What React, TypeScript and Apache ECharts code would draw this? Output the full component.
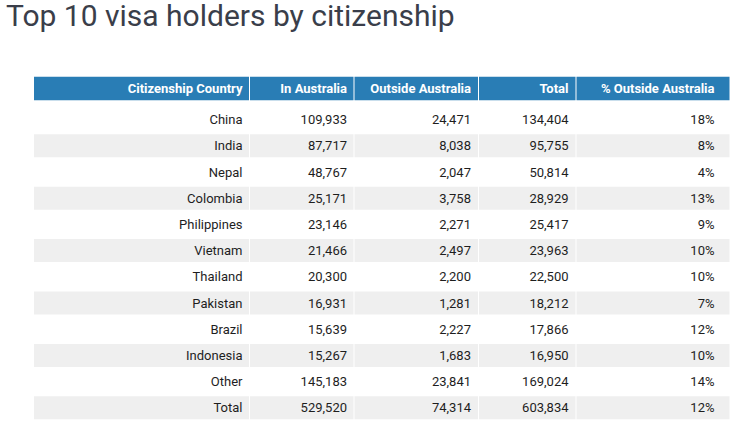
import React, { useEffect, useRef } from "react";
import * as echarts from "echarts";

const titleText = "Top 10 visa holders by citizenship";
const headers = ["Citizenship Country", "In Australia", "Outside Australia", "Total", "% Outside Australia"];
const countries = ["China", "India", "Nepal", "Colombia", "Philippines", "Vietnam", "Thailand", "Pakistan", "Brazil", "Indonesia", "Other", "Total"];
const inAustralia = [109933, 87717, 48767, 25171, 23146, 21466, 20300, 16931, 15639, 15267, 145183, 529520];
const outsideAustralia = [24471, 8038, 2047, 3758, 2271, 2497, 2200, 1281, 2227, 1683, 23841, 74314];
const totals = [134404, 95755, 50814, 28929, 25417, 23963, 22500, 18212, 17866, 16950, 169024, 603834];
const pctOutside = [18, 8, 4, 13, 9, 10, 10, 7, 12, 10, 14, 12];

// layout (column edges in px from the table's left edge, right padding per column)
const colEdges = [0, 216, 320.5, 445, 542.5, 695.5];
const colPad = [7.5, 7.5, 8, 8, 15];

const fmt = (n: number) => n.toLocaleString("en-US");

type Cell = { col: number; row: number; text: string };

const headerCells: Cell[] = headers.map((h, i) => ({ col: i, row: 0, text: h }));
const bodyCells: Cell[] = [];
countries.forEach((c, r) => {
  bodyCells.push({ col: 0, row: r, text: c });
  bodyCells.push({ col: 1, row: r, text: fmt(inAustralia[r]) });
  bodyCells.push({ col: 2, row: r, text: fmt(outsideAustralia[r]) });
  bodyCells.push({ col: 3, row: r, text: fmt(totals[r]) });
  bodyCells.push({ col: 4, row: r, text: pctOutside[r] + "%" });
});

const FONT = "Roboto";

function makeRender(cells: Cell[], isHeader: boolean) {
  return (params: any, api: any) => {
    const cell = cells[params.dataIndex];
    const col = api.value(0);
    const row = api.value(1);
    const p0 = api.coord([colEdges[col], row]);
    const p1 = api.coord([colEdges[col + 1], row]);
    const bandH = api.size([0, 1])[1];
    const h = isHeader ? bandH : bandH - 3.2;
    const last = col === colEdges.length - 2;
    const w = p1[0] - p0[0] - (last ? 0 : 1);
    let fill = "#ffffff";
    if (isHeader) fill = "#297db5";
    else if (row % 2 === 1) fill = "#efefef";
    return {
      type: "group",
      children: [
        {
          type: "rect",
          shape: { x: p0[0], y: p0[1] - h / 2, width: w, height: h },
          style: { fill },
        },
        {
          type: "text",
          x: p1[0] - colPad[col],
          y: p0[1],
          style: {
            text: cell.text,
            align: "right",
            verticalAlign: "middle",
            fontFamily: FONT,
            fontSize: 13,
            fontWeight: isHeader ? "bold" : "normal",
            fill: isHeader ? "#ffffff" : "#1e1e1e",
          },
        },
      ],
    };
  };
}

export default function App() {
  const ref = useRef<HTMLDivElement>(null);
  useEffect(() => {
    if (!ref.current) return;
    const chart = echarts.init(ref.current, undefined, { renderer: "svg" });
    const maxX = colEdges[colEdges.length - 1];
    chart.setOption({
      animation: false,
      title: {
        text: titleText,
        left: 6,
        top: 0,
        padding: 0,
        textStyle: { fontFamily: FONT, fontSize: 30, fontWeight: "normal", color: "#3a3e4a" },
      },
      grid: [
        { left: 34, width: maxX, top: 76.7, height: 23.6 },
        { left: 34, width: maxX, top: 106.5, height: 314.4 },
      ],
      xAxis: [
        { type: "value", gridIndex: 0, min: 0, max: maxX, show: false },
        { type: "value", gridIndex: 1, min: 0, max: maxX, show: false },
      ],
      yAxis: [
        { type: "category", gridIndex: 0, data: ["header"], inverse: true, show: false },
        { type: "category", gridIndex: 1, data: countries.map((_, i) => String(i)), inverse: true, show: false },
      ],
      series: [
        {
          type: "custom",
          xAxisIndex: 0,
          yAxisIndex: 0,
          renderItem: makeRender(headerCells, true),
          data: headerCells.map((c) => [c.col, c.row]),
          silent: true,
        },
        {
          type: "custom",
          xAxisIndex: 1,
          yAxisIndex: 1,
          renderItem: makeRender(bodyCells, false),
          data: bodyCells.map((c) => [c.col, c.row]),
          silent: true,
        },
      ],
    });
    return () => chart.dispose();
  }, []);
  return <div ref={ref} style={{ width: 735, height: 431, position: "absolute", left: 0, top: 0 }} />;
}
